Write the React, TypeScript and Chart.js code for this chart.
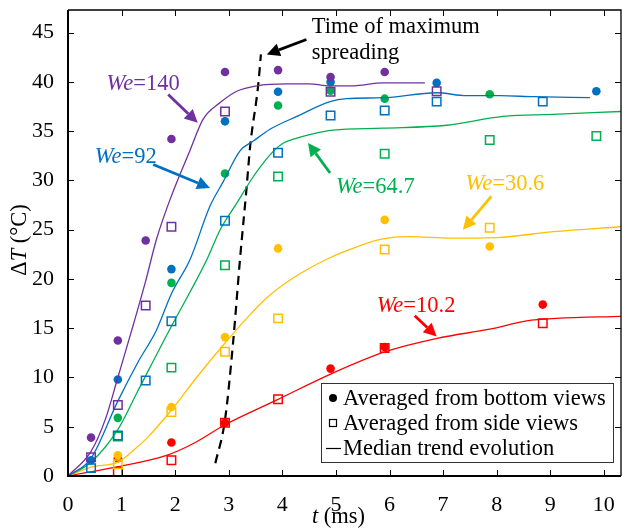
import React, { useEffect, useRef } from 'react';
import { Chart, registerables } from 'chart.js';

Chart.register(...registerables);

// ---------- Data ----------
const X_MAX = 10.32;
const Y_MAX = 47.3;
const X_TICK_STEP = 1;
const Y_TICK_STEP = 5;

const weLabels = ['140', '92', '64.7', '30.6', '10.2'];
const weColors = ['#7030A0', '#0070C0', '#00B050', '#FFC000', '#FF0000'];

// bottom views (filled circles)
const bottomT140 = [0.43, 0.93, 1.45, 1.93, 2.93, 3.92, 4.9, 5.91];
const bottomV140 = [3.9, 13.75, 23.9, 34.2, 41.0, 41.2, 40.5, 41.0];
const bottomT92 = [0.43, 0.93, 1.93, 2.93, 3.92, 4.9, 6.88, 9.86];
const bottomV92 = [1.6, 9.8, 21.0, 36.0, 39.0, 40.0, 39.9, 39.05];
const bottomT647 = [0.93, 1.93, 2.93, 3.92, 4.9, 5.91, 7.87];
const bottomV647 = [5.9, 19.6, 30.7, 37.6, 39.1, 38.3, 38.75];
const bottomT306 = [0.93, 1.93, 2.93, 3.92, 5.91, 7.87];
const bottomV306 = [2.1, 7.0, 14.1, 23.1, 26.0, 23.3];
const bottomT102 = [0.93, 1.93, 2.93, 4.9, 5.91, 8.86];
const bottomV102 = [1.8, 3.4, 5.4, 10.9, 13.1, 17.4];

// side views (open squares)
const sideT140 = [0.43, 0.93, 1.45, 1.93, 2.93, 4.9, 6.88];
const sideV140 = [1.9, 7.2, 17.3, 25.3, 37.0, 39.0, 39.05];
const sideT92 = [0.43, 0.93, 1.45, 1.93, 2.93, 3.92, 4.9, 5.91, 6.88, 8.86];
const sideV92 = [0.8, 4.1, 9.7, 15.7, 25.9, 32.8, 36.6, 37.1, 38.0, 38.0];
const sideT647 = [0.93, 1.93, 2.93, 3.92, 5.91, 7.87, 9.86];
const sideV647 = [4.0, 11.0, 21.4, 30.4, 32.7, 34.1, 34.5];
const sideT306 = [0.93, 1.93, 2.93, 3.92, 5.91, 7.87];
const sideV306 = [1.2, 6.5, 12.6, 16.0, 23.0, 25.2];
const sideT102 = [0.93, 1.93, 2.93, 3.92, 5.91, 8.86];
const sideV102 = [0.4, 1.6, 5.4, 7.8, 13.0, 15.5];

// median trend lines
const trendT140 = [0, 0.43, 0.7, 0.93, 1.19, 1.45, 1.65, 1.9, 2.28, 2.52, 2.84, 3.15, 3.52, 4.08, 4.5, 4.89, 5.3, 5.88, 6.66];
const trendV140 = [0, 2.5, 5.8, 10.0, 14.8, 19.8, 24.0, 28.0, 33.1, 36.2, 37.9, 39.05, 39.6, 39.8, 39.8, 39.6, 39.6, 39.9, 39.9];
const trendT92 = [0, 0.43, 0.93, 1.3, 1.65, 1.93, 2.28, 2.65, 2.9, 3.21, 3.46, 3.77, 4.27, 4.89, 5.2, 5.88, 6.88, 7.44, 8.06, 8.68, 9.74];
const trendV92 = [0, 1.8, 7.6, 11.5, 14.8, 18.5, 22.0, 27.4, 29.9, 33.0, 34.0, 35.2, 36.5, 38.0, 38.3, 38.4, 38.9, 38.6, 38.6, 38.5, 38.4];
const trendT647 = [0, 0.43, 0.93, 1.3, 1.93, 2.3, 2.59, 2.84, 3.15, 3.46, 3.77, 4.02, 4.27, 4.51, 4.95, 5.88, 7.07, 8.12, 9.05, 10.32];
const trendV647 = [0, 1.4, 4.7, 8.6, 15.2, 18.9, 21.95, 25.0, 27.7, 30.4, 32.6, 33.8, 34.3, 34.65, 35.1, 35.3, 35.6, 36.5, 36.7, 37.0];
const trendT306 = [0, 0.43, 0.93, 1.2, 1.5, 1.93, 2.4, 2.93, 3.3, 3.71, 4.2, 4.83, 5.26, 5.85, 6.38, 7.13, 8.0, 9.05, 10.32];
const trendV306 = [0, 0.9, 1.4, 2.5, 4.0, 6.7, 10.0, 13.5, 15.8, 18.1, 20.1, 22.0, 23.0, 24.05, 24.3, 24.15, 24.2, 24.8, 25.3];
const trendT102 = [0, 0.93, 1.84, 2.34, 2.93, 3.89, 4.92, 5.91, 6.91, 7.87, 8.56, 9.12, 10.32];
const trendV102 = [0, 0.95, 2.1, 3.3, 5.2, 7.7, 10.4, 12.6, 14.0, 14.9, 15.75, 16.0, 16.2];

// time of maximum spreading (dashed)
const spreadT = [2.75, 2.93, 3.08, 3.21, 3.33, 3.4, 3.55, 3.6];
const spreadV = [1.3, 5.7, 13.5, 22.0, 29.1, 33.5, 39.7, 42.8];

const bottomT = [bottomT140, bottomT92, bottomT647, bottomT306, bottomT102];
const bottomV = [bottomV140, bottomV92, bottomV647, bottomV306, bottomV102];
const sideT = [sideT140, sideT92, sideT647, sideT306, sideT102];
const sideV = [sideV140, sideV92, sideV647, sideV306, sideV102];
const trendT = [trendT140, trendT92, trendT647, trendT306, trendT102];
const trendV = [trendV140, trendV92, trendV647, trendV306, trendV102];

// annotation labels (data coordinates: left/baseline), arrows (from -> to)
const labelPos = [
  [0.72, 39.23],
  [0.5, 31.81],
  [5.0, 28.76],
  [7.42, 29.07],
  [5.76, 16.66],
];
const arrowFrom = [
  [1.87, 38.72],
  [1.59, 31.61],
  [4.89, 30.76],
  [7.9, 28.38],
  [6.47, 16.26],
];
const arrowTo = [
  [2.42, 35.86],
  [2.65, 29.24],
  [4.48, 33.81],
  [7.37, 25.0],
  [6.88, 14.16],
];
const spreadTextLines = ['Time of maximum', 'spreading'];
const spreadTextPos = [
  [4.55, 44.99],
  [4.55, 42.28],
];
const spreadArrowFrom = [4.45, 44.31];
const spreadArrowTo = [3.71, 42.78];

const legendLabels = ['Averaged from bottom views', 'Averaged from side views', 'Median trend evolution'];

const FONT = "'Liberation Serif', 'Times New Roman', serif";
Chart.defaults.font.family = FONT;

const zip = (t: number[], v: number[]) => t.map((x, i) => ({ x, y: v[i] }));

type Part = { text: string; italic?: boolean };

function drawRich(ctx: CanvasRenderingContext2D, parts: Part[], x: number, y: number, size: number, color: string, align: 'left' | 'center' = 'left') {
  ctx.save();
  ctx.fillStyle = color;
  ctx.textBaseline = 'alphabetic';
  ctx.textAlign = 'left';
  const widths = parts.map((p) => {
    ctx.font = `${p.italic ? 'italic ' : ''}${size}px ${FONT}`;
    return ctx.measureText(p.text).width;
  });
  const total = widths.reduce((a, b) => a + b, 0);
  let cx = align === 'center' ? x - total / 2 : x;
  parts.forEach((p, i) => {
    ctx.font = `${p.italic ? 'italic ' : ''}${size}px ${FONT}`;
    ctx.fillText(p.text, cx, y);
    cx += widths[i];
  });
  ctx.restore();
}

function drawArrow(ctx: CanvasRenderingContext2D, x1: number, y1: number, x2: number, y2: number, color: string) {
  const ang = Math.atan2(y2 - y1, x2 - x1);
  const headLen = 13;
  const headW = 6.5;
  const bx = x2 - headLen * Math.cos(ang);
  const by = y2 - headLen * Math.sin(ang);
  ctx.save();
  ctx.strokeStyle = color;
  ctx.fillStyle = color;
  ctx.lineWidth = 2.8;
  ctx.beginPath();
  ctx.moveTo(x1, y1);
  ctx.lineTo(bx, by);
  ctx.stroke();
  ctx.beginPath();
  ctx.moveTo(x2, y2);
  ctx.lineTo(bx + headW * Math.sin(ang), by - headW * Math.cos(ang));
  ctx.lineTo(bx - headW * Math.sin(ang), by + headW * Math.cos(ang));
  ctx.closePath();
  ctx.fill();
  ctx.restore();
}

const overlayPlugin = {
  id: 'overlay',
  afterDraw(chart: any) {
    const ctx: CanvasRenderingContext2D = chart.ctx;
    const { left, right, top, bottom } = chart.chartArea;
    const xs = chart.scales.x;
    const ys = chart.scales.y;

    // frame
    ctx.save();
    ctx.strokeStyle = '#000';
    ctx.lineWidth = 1.3;
    ctx.beginPath();
    ctx.moveTo(left, top);
    ctx.lineTo(right, top);
    ctx.lineTo(right, bottom);
    ctx.stroke();
    ctx.lineWidth = 2;
    ctx.beginPath();
    ctx.moveTo(left, top);
    ctx.lineTo(left, bottom);
    ctx.lineTo(right, bottom);
    ctx.stroke();
    // inward ticks
    ctx.lineWidth = 1;
    const tl = 6;
    xs.ticks.forEach((t: any) => {
      const px = Math.round(xs.getPixelForValue(t.value)) + 0.5;
      ctx.beginPath();
      ctx.moveTo(px, bottom);
      ctx.lineTo(px, bottom - tl);
      ctx.moveTo(px, top);
      ctx.lineTo(px, top + tl);
      ctx.stroke();
    });
    ys.ticks.forEach((t: any) => {
      const py = Math.round(ys.getPixelForValue(t.value)) + 0.5;
      ctx.beginPath();
      ctx.moveTo(left, py);
      ctx.lineTo(left + tl, py);
      ctx.moveTo(right, py);
      ctx.lineTo(right - tl, py);
      ctx.stroke();
    });
    ctx.restore();

    // axis titles
    drawRich(ctx, [{ text: 't', italic: true }, { text: ' (ms)' }], (left + right) / 2 - 6, 523, 22.5, '#000', 'center');
    ctx.save();
    ctx.translate(26, (top + bottom) / 2 - 3);
    ctx.rotate(-Math.PI / 2);
    drawRich(ctx, [{ text: 'Δ' }, { text: 'T', italic: true }, { text: ' (°C)' }], 0, 0, 22.5, '#000', 'center');
    ctx.restore();

    // We annotations
    weLabels.forEach((lab, i) => {
      const lx = xs.getPixelForValue(labelPos[i][0]);
      const ly = ys.getPixelForValue(labelPos[i][1]);
      drawRich(ctx, [{ text: 'We', italic: true }, { text: '=' + lab }], lx, ly, 22.5, weColors[i]);
      drawArrow(
        ctx,
        xs.getPixelForValue(arrowFrom[i][0]),
        ys.getPixelForValue(arrowFrom[i][1]),
        xs.getPixelForValue(arrowTo[i][0]),
        ys.getPixelForValue(arrowTo[i][1]),
        weColors[i]
      );
    });

    // time of maximum spreading
    spreadTextLines.forEach((s, i) => {
      drawRich(ctx, [{ text: s }], xs.getPixelForValue(spreadTextPos[i][0]), ys.getPixelForValue(spreadTextPos[i][1]), 22.5, '#000');
    });
    drawArrow(
      ctx,
      xs.getPixelForValue(spreadArrowFrom[0]),
      ys.getPixelForValue(spreadArrowFrom[1]),
      xs.getPixelForValue(spreadArrowTo[0]),
      ys.getPixelForValue(spreadArrowTo[1]),
      '#000'
    );

    // legend
    ctx.save();
    const bx = 321, by = 383, bw = 292, bh = 79;
    ctx.fillStyle = '#fff';
    ctx.fillRect(bx, by, bw, bh);
    ctx.strokeStyle = '#333';
    ctx.lineWidth = 1;
    ctx.strokeRect(bx + 0.5, by + 0.5, bw, bh);
    ctx.fillStyle = '#000';
    ctx.beginPath();
    ctx.arc(333, 398, 4, 0, Math.PI * 2);
    ctx.fill();
    ctx.lineWidth = 1.2;
    ctx.strokeStyle = '#000';
    ctx.strokeRect(329.5, 419.5, 7, 7);
    ctx.beginPath();
    ctx.moveTo(326, 448.5);
    ctx.lineTo(341, 448.5);
    ctx.stroke();
    ctx.restore();
    const baselines = [405, 430, 455];
    legendLabels.forEach((s, i) => drawRich(ctx, [{ text: s }], 343, baselines[i], 22.5, '#000'));
  },
};

export default function App() {
  const ref = useRef<HTMLCanvasElement>(null);
  useEffect(() => {
    if (!ref.current) return;
    const datasets: any[] = [];
    weColors.forEach((c, i) => {
      datasets.push({
        label: 'bottom ' + weLabels[i],
        data: zip(bottomT[i], bottomV[i]),
        showLine: false,
        pointStyle: 'circle',
        pointRadius: 4.3,
        pointBorderWidth: 0,
        pointBackgroundColor: c,
        pointBorderColor: c,
      });
      datasets.push({
        label: 'side ' + weLabels[i],
        data: zip(sideT[i], sideV[i]),
        showLine: false,
        pointStyle: 'rect',
        pointRadius: 6,
        pointBorderWidth: 1.5,
        pointBackgroundColor: 'rgba(0,0,0,0)',
        pointBorderColor: c,
      });
      datasets.push({
        label: 'trend ' + weLabels[i],
        data: zip(trendT[i], trendV[i]),
        showLine: true,
        borderColor: c,
        borderWidth: 1.3,
        pointRadius: 0,
        cubicInterpolationMode: 'monotone',
        fill: false,
      });
    });
    datasets.push({
      label: 'max spreading',
      data: zip(spreadT, spreadV),
      showLine: true,
      borderColor: '#000',
      borderWidth: 2.2,
      borderDash: [9, 6],
      pointRadius: 0,
      cubicInterpolationMode: 'monotone',
      fill: false,
    });

    const chart = new Chart(ref.current, {
      type: 'scatter',
      data: { datasets },
      options: {
        animation: false,
        responsive: false,
        events: [],
        layout: { autoPadding: false, padding: { top: 10, right: 1, left: 0, bottom: 0 } },
        plugins: { legend: { display: false }, tooltip: { enabled: false } },
        scales: {
          x: {
            type: 'linear',
            min: 0,
            max: X_MAX,
            grid: { display: false },
            border: { display: false },
            ticks: {
              stepSize: X_TICK_STEP,
              includeBounds: false,
              padding: 8,
              color: '#000',
              maxRotation: 0,
              autoSkip: false,
              font: { family: FONT, size: 22 },
            },
            afterFit: (s: any) => {
              s.height = 52;
              s.paddingLeft = 0;
              s.paddingRight = 0;
            },
          },
          y: {
            type: 'linear',
            min: 0,
            max: Y_MAX,
            grid: { display: false },
            border: { display: false },
            ticks: {
              stepSize: Y_TICK_STEP,
              includeBounds: false,
              padding: 6,
              color: '#000',
              autoSkip: false,
              font: { family: FONT, size: 22 },
            },
            afterFit: (s: any) => {
              s.width = 68;
              s.paddingTop = 0;
              s.paddingBottom = 0;
            },
          },
        },
      } as any,
      plugins: [overlayPlugin],
    });
    return () => chart.destroy();
  }, []);

  return (
    <div style={{ position: 'fixed', left: 0, top: 0, width: 622, height: 528, background: '#fff' }}>
      <canvas ref={ref} width={622} height={528} style={{ display: 'block' }} />
    </div>
  );
}
